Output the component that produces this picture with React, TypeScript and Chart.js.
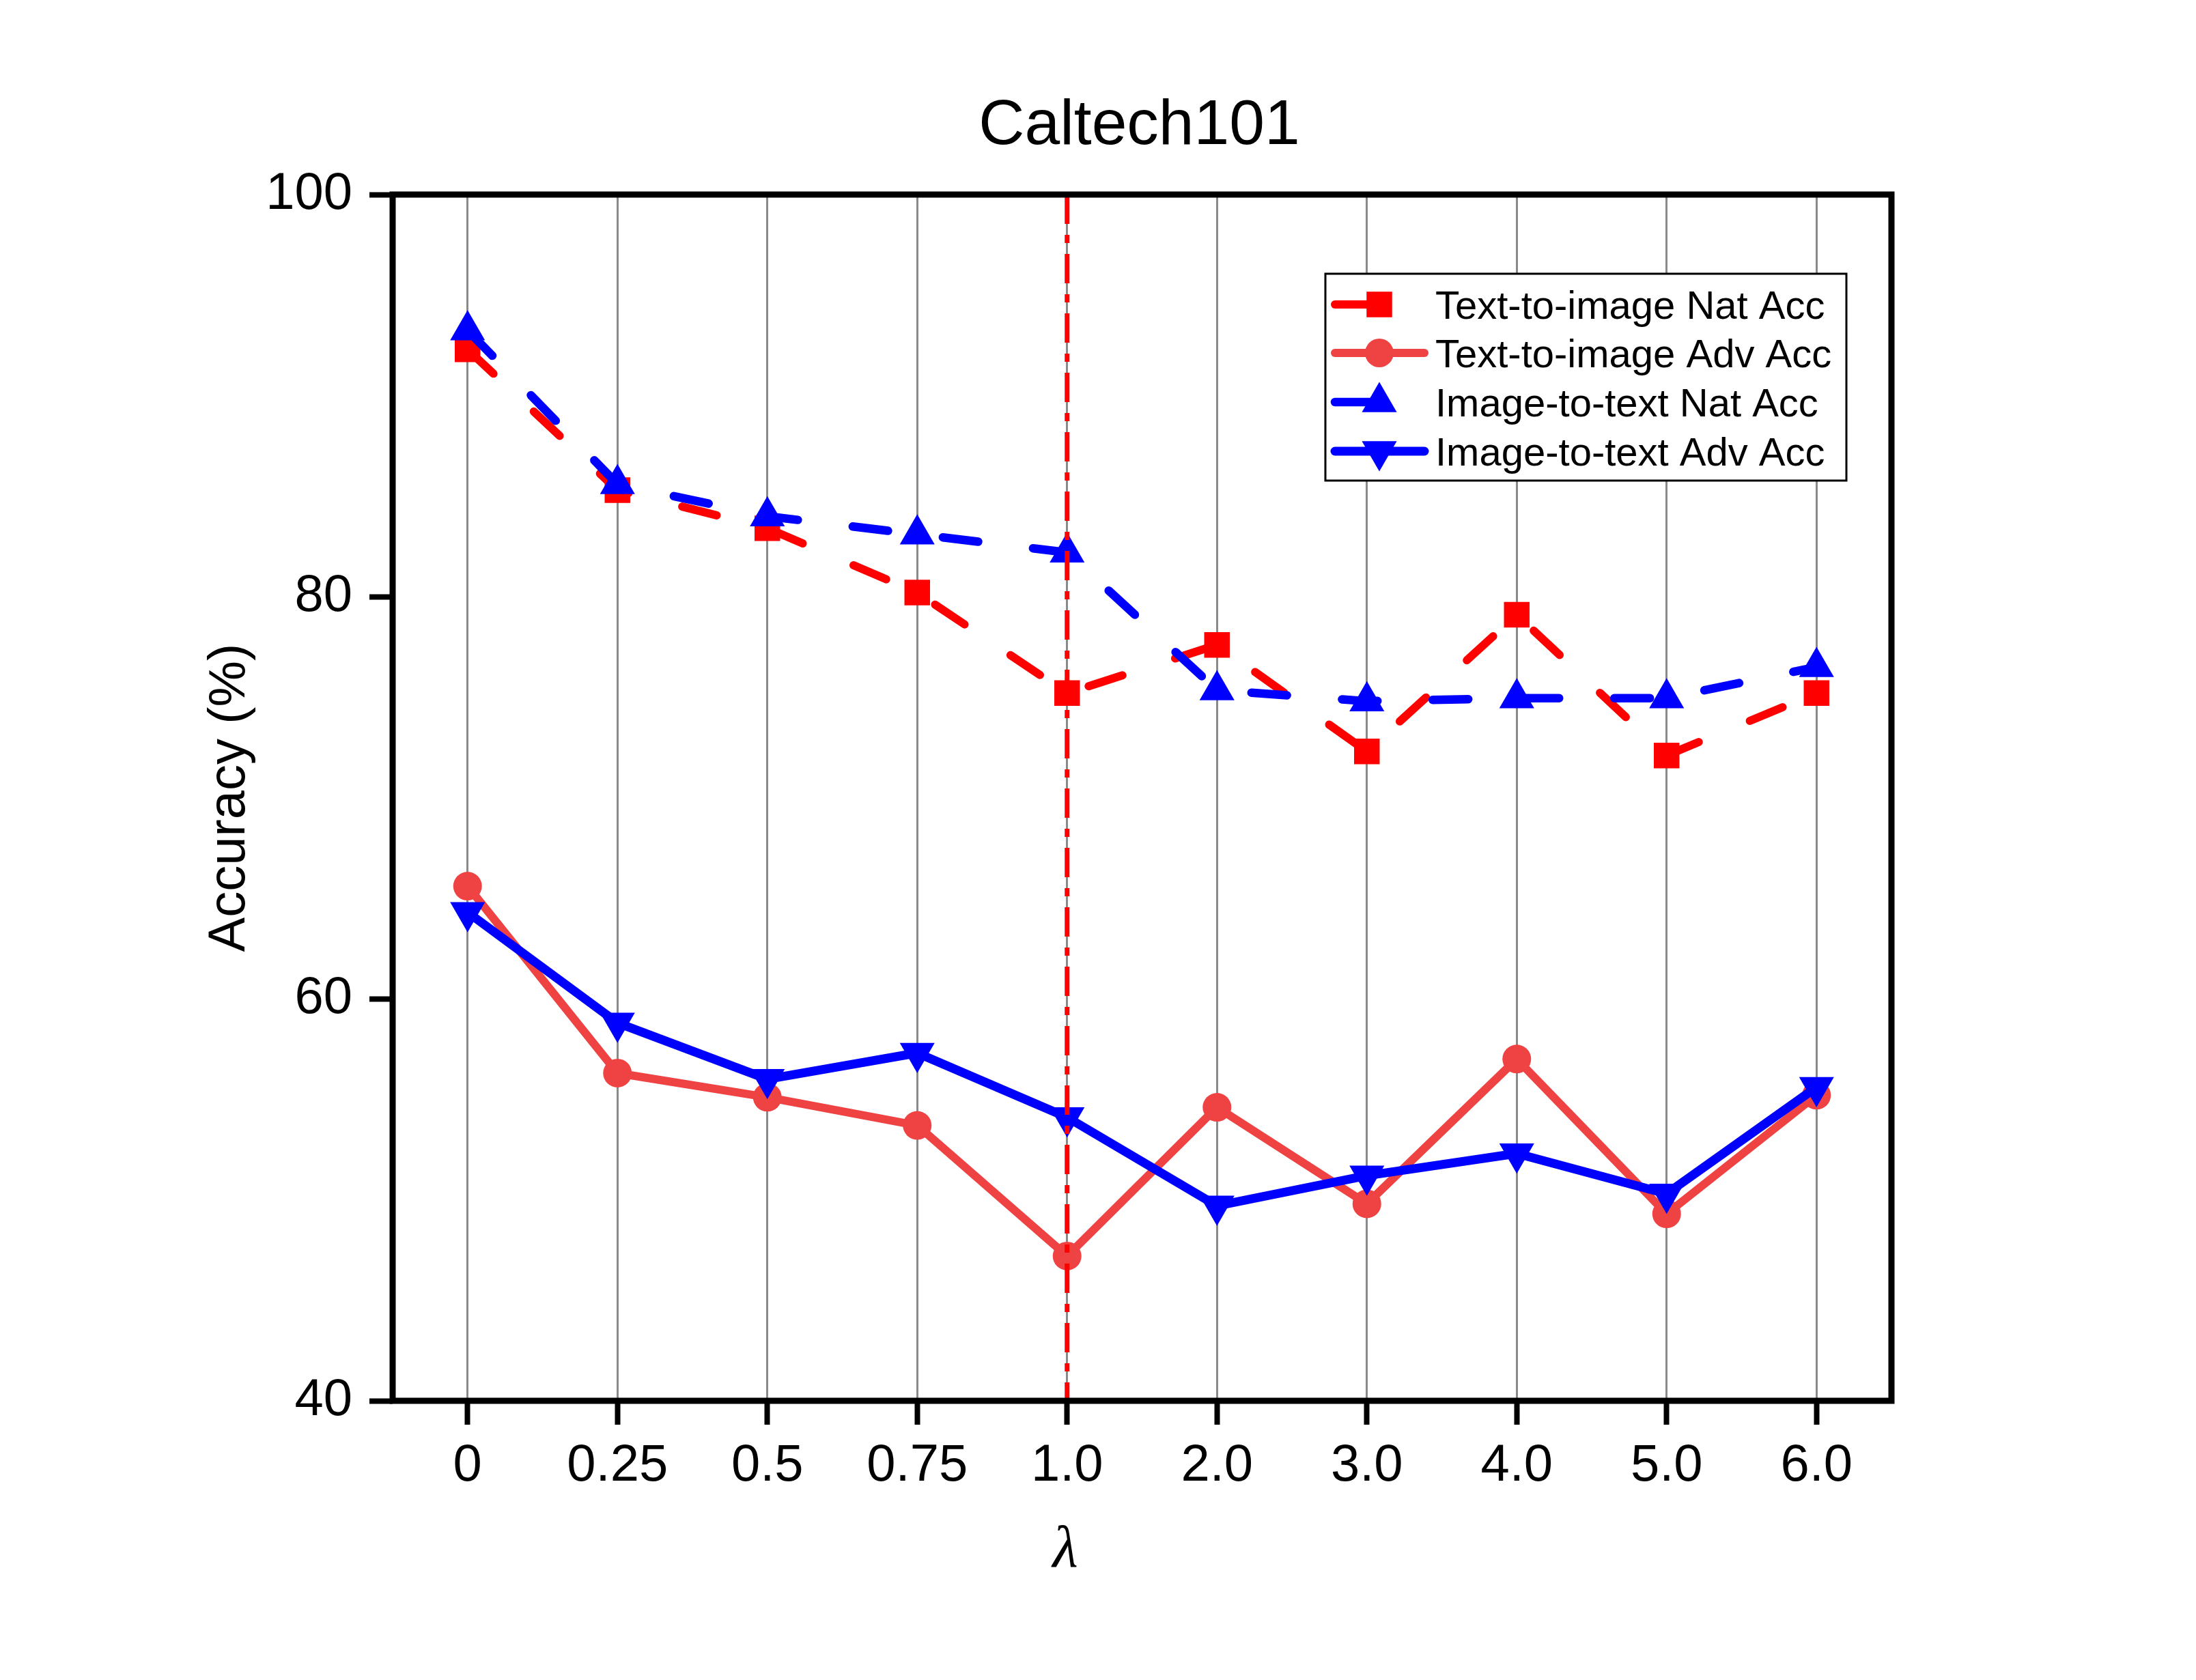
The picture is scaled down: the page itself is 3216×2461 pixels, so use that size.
import React, { useEffect, useRef } from 'react';
import { Chart, registerables } from 'chart.js';

Chart.register(...registerables);

// ---------------- data ----------------
const lambdas = ['0', '0.25', '0.5', '0.75', '1.0', '2.0', '3.0', '4.0', '5.0', '6.0'];
const t2iNat = [92.3, 85.3, 83.4, 80.2, 75.2, 77.6, 72.3, 79.1, 72.1, 75.2];
const t2iAdv = [65.6, 56.3, 55.1, 53.7, 47.2, 54.6, 49.8, 57.0, 49.3, 55.2];
const i2tNat = [93.25, 85.6, 84.0, 83.1, 82.2, 75.35, 74.8, 74.95, 74.95, 76.5];
const i2tAdv = [64.3, 58.8, 56.0, 57.3, 54.1, 49.7, 51.2, 52.3, 50.3, 55.6];
const yTicks = [40, 60, 80, 100];
const chosenLambda = '1.0';
const seriesNames = [
  'Text-to-image Nat Acc',
  'Text-to-image Adv Acc',
  'Image-to-text Nat Acc',
  'Image-to-text Adv Acc',
];
const chartTitle = 'Caltech101';
const xTitle = 'λ';
const yTitle = 'Accuracy (%)';

// ---------------- styles ----------------
const W = 3216;
const H = 2461;
const FONT = '"Liberation Sans", Arial, Helvetica, sans-serif';
const RED = '#FF0000';
const LRED = '#EF4242';
const BLUE = '#0000FF';

function drawMarker(ctx: CanvasRenderingContext2D, style: string, r: number, rot: number, x: number, y: number, color: string) {
  ctx.save();
  ctx.fillStyle = color;
  ctx.setLineDash([]);
  ctx.beginPath();
  if (style === 'rect') {
    const s = Math.SQRT1_2 * r;
    ctx.rect(x - s, y - s, 2 * s, 2 * s);
  } else if (style === 'circle') {
    ctx.arc(x, y, r, 0, Math.PI * 2);
  } else if (style === 'triangle') {
    let rad = (rot * Math.PI) / 180;
    ctx.moveTo(x + Math.sin(rad) * r, y - Math.cos(rad) * r);
    rad += (2 * Math.PI) / 3;
    ctx.lineTo(x + Math.sin(rad) * r, y - Math.cos(rad) * r);
    rad += (2 * Math.PI) / 3;
    ctx.lineTo(x + Math.sin(rad) * r, y - Math.cos(rad) * r);
    ctx.closePath();
  }
  ctx.fill();
  ctx.restore();
}

const decorPlugin = {
  id: 'decor',
  afterDatasetsDraw(chart: any) {
    const { ctx, chartArea, scales } = chart;
    const xs = scales.x;
    ctx.save();
    // vertical reference line at chosen lambda
    const vx = xs.getPixelForValue(lambdas.indexOf(chosenLambda));
    ctx.strokeStyle = RED;
    ctx.lineWidth = 7;
    ctx.setLineDash([43, 16, 12, 16]);
    ctx.beginPath();
    ctx.moveTo(vx, chartArea.top);
    ctx.lineTo(vx, chartArea.bottom);
    ctx.stroke();
    ctx.setLineDash([]);
    // frame
    ctx.strokeStyle = '#000';
    ctx.lineWidth = 9;
    ctx.strokeRect(chartArea.left, chartArea.top, chartArea.right - chartArea.left, chartArea.bottom - chartArea.top);
    ctx.restore();
  },
  afterDraw(chart: any) {
    const { ctx, chartArea } = chart;
    ctx.save();
    ctx.fillStyle = '#000';
    // title
    ctx.font = `93px ${FONT}`;
    ctx.textAlign = 'center';
    ctx.textBaseline = 'alphabetic';
    ctx.fillText(chartTitle, (chartArea.left + chartArea.right) / 2 - 4, 211);
    // y title
    ctx.save();
    ctx.translate(358, (chartArea.top + chartArea.bottom) / 2);
    ctx.rotate(-Math.PI / 2);
    ctx.font = `76px ${FONT}`;
    ctx.fillText(yTitle, 0, 0);
    ctx.restore();
    // x title
    ctx.font = `italic 86px "Liberation Serif", "DejaVu Serif", serif`;
    ctx.fillText(xTitle, 1560, 2295);

    // legend
    const bx = 1941, by = 401, bw = 763, bh = 303;
    ctx.fillStyle = '#fff';
    ctx.fillRect(bx, by, bw, bh);
    ctx.strokeStyle = '#000';
    ctx.lineWidth = 3;
    ctx.strokeRect(bx, by, bw, bh);
    const rowY = [446, 517, 589, 661];
    chart.data.datasets.forEach((ds: any, i: number) => {
      const y = rowY[i];
      ctx.save();
      ctx.strokeStyle = ds.borderColor;
      ctx.lineWidth = ds.borderWidth;
      ctx.lineCap = 'round';
      ctx.setLineDash(ds.borderDash || []);
      ctx.beginPath();
      ctx.moveTo(1955, y);
      ctx.lineTo(2086, y);
      ctx.stroke();
      ctx.restore();
      drawMarker(ctx, ds.pointStyle, ds.pointRadius, ds.pointRotation || 0, 2020, y, ds.pointBackgroundColor);
      ctx.fillStyle = '#000';
      ctx.font = `58px ${FONT}`;
      ctx.textAlign = 'left';
      ctx.textBaseline = 'alphabetic';
      ctx.fillText(ds.label, 2102, y + 20.5);
    });
    ctx.restore();
  },
};

export default function App() {
  const ref = useRef<HTMLCanvasElement | null>(null);
  useEffect(() => {
    if (!ref.current) return;
    const chart = new Chart(ref.current, {
      type: 'line',
      data: {
        labels: lambdas,
        datasets: [
          {
            label: seriesNames[0], data: t2iNat, borderColor: RED, backgroundColor: RED,
            borderWidth: 12, borderDash: [52, 81], borderCapStyle: 'round', borderJoinStyle: 'round',
            pointStyle: 'rect', pointRadius: 26.5, pointBackgroundColor: RED, pointBorderWidth: 0, order: 4,
          },
          {
            label: seriesNames[1], data: t2iAdv, borderColor: LRED, backgroundColor: LRED,
            borderWidth: 12, borderCapStyle: 'round', borderJoinStyle: 'round',
            pointStyle: 'circle', pointRadius: 21, pointBackgroundColor: LRED, pointBorderWidth: 0, order: 3,
          },
          {
            label: seriesNames[2], data: i2tNat, borderColor: BLUE, backgroundColor: BLUE,
            borderWidth: 12.5, borderDash: [52, 81], borderCapStyle: 'round', borderJoinStyle: 'round',
            pointStyle: 'triangle', pointRadius: 29.5, pointBackgroundColor: BLUE, pointBorderWidth: 0, order: 2,
          },
          {
            label: seriesNames[3], data: i2tAdv, borderColor: BLUE, backgroundColor: BLUE,
            borderWidth: 13, borderCapStyle: 'round', borderJoinStyle: 'round',
            pointStyle: 'triangle', pointRotation: 180, pointRadius: 29.5, pointBackgroundColor: BLUE, pointBorderWidth: 0, order: 1,
          },
        ],
      } as any,
      options: {
        animation: false,
        responsive: false,
        devicePixelRatio: 1,
        events: [],
        layout: { padding: { left: 0, top: 285, right: W - 2770, bottom: 0 } },
        plugins: {
          legend: { display: false },
          title: { display: false },
          tooltip: { enabled: false },
        },
        elements: { line: { tension: 0 } },
        scales: {
          x: {
            type: 'category',
            offset: true,
            grid: {
              display: true, drawOnChartArea: true, color: '#8a8a8a', lineWidth: 3,
              drawTicks: true, tickLength: 35, tickColor: '#000', tickWidth: 8,
            },
            border: { display: false },
            ticks: { font: { family: FONT, size: 76 }, color: '#000', padding: 15, autoSkip: false, maxRotation: 0 },
            afterFit: (s: any) => { s.height = H - 2052; },
          },
          y: {
            type: 'linear',
            min: 40,
            max: 100,
            afterBuildTicks: (s: any) => { s.ticks = yTicks.map((v) => ({ value: v })); },
            grid: {
              display: true, drawOnChartArea: false, drawTicks: true, tickLength: 34,
              tickColor: '#000', tickWidth: 8,
            },
            border: { display: false },
            ticks: { font: { family: FONT, size: 76 }, color: '#000', padding: 25 },
            afterFit: (s: any) => { s.width = 575; },
          },
        },
      } as any,
      plugins: [decorPlugin],
    });
    return () => chart.destroy();
  }, []);
  return (
    <div style={{ position: 'fixed', left: 0, top: 0, width: W, height: H, background: '#fff' }}>
      <canvas ref={ref} width={W} height={H} style={{ display: 'block', width: W, height: H }} />
    </div>
  );
}
